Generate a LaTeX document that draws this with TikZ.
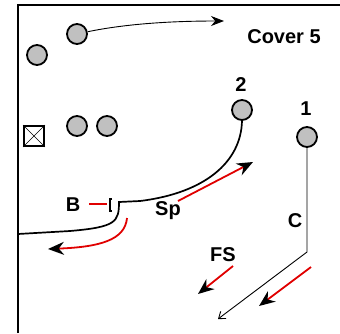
\documentclass[tikz,border=0pt]{standalone}
\usepackage{fontspec}
\setmainfont{Liberation Sans}
\usetikzlibrary{arrows.meta}
\definecolor{read}{HTML}{E00000}
\definecolor{chip}{HTML}{C0C0C0}

\begin{document}
\begin{tikzpicture}[x=1pt,y=-1pt,
  player/.style={circle,draw,line width=1.8pt,fill=chip,minimum size=20pt,inner sep=0pt},
  lbl/.style={font=\fontsize{20}{20}\selectfont\bfseries},
  route/.style={line width=1.7pt},
  drop/.style={line width=1.8pt,read,-{Stealth[black,length=16pt,width=13pt]}},
  motion/.style={line width=0.9pt}]
  \useasboundingbox (0,0) rectangle (340,333);
  % sideline and end of the field
  \draw[line width=2.8pt] (18,333) -- (18,5) -- (340,5);
  % offense
  \node[player] (wrin) at (77,34) {};
  \node[player] (wrout) at (37,55) {};
  \node[player] (rbone) at (77,126) {};
  \node[player] (rbtwo) at (107,126) {};
  \node[player] (two) at (242,110) {};
  \node[player] (one) at (307,137) {};
  \node[draw,line width=1.8pt,minimum size=20pt,inner sep=0pt] (ball) at (34,136) {};
  \draw[line width=0.4pt] (ball.north west) -- (ball.south east) (ball.north east) -- (ball.south west);
  % labels
  \node[lbl] (cover) at (284,37) {Cover 5};
  \node[lbl] (lbtwo) at (241,85) {2};
  \node[lbl] (lbone) at (306,109) {1};
  \node[lbl] (lbB) at (73,205) {B};
  \node[lbl] (lbSp) at (168,211) {Sp};
  \node[lbl] (lbC) at (295,221) {C};
  \node[lbl] (lbFS) at (223,255) {FS};
  % motion across the formation
  \coordinate (motend) at (224,21);
  \draw[motion,-{Stealth[length=13pt,width=10pt]}] (wrin.12) .. controls (125,24) and (170,21) .. (motend);
  % route of 2 into the flat
  \coordinate (hook) at (119,202);
  \coordinate (sideline) at (18,234);
  \draw[route] (two.south) .. controls (241,162) and (205,193) .. (140,201) -- (hook)
    .. controls (119,222) and (116,227) .. (70,231) -- (sideline);
  % route of 1 up the sideline
  \coordinate (cturn) at (307,252);
  \coordinate (cdeep) at (218,319);
  \draw[motion,-{Straight Barb[length=6pt,width=9pt]}] (one.south) -- (cturn) -- (cdeep);
  % block by B
  \coordinate (bks) at (89,204);
  \coordinate (bke) at (107,204);
  \draw[read,line width=1.6pt] (bks) -- (bke);
  \draw[line width=1.4pt] (112,199) -- (110,199) -- (110,211) -- (112,211);
  % defenders' reads
  \coordinate (bstart) at (127,218);
  \coordinate (bend) at (48,249);
  \draw[drop] (bstart) .. controls (125,240) and (100,247) .. (bend);
  \coordinate (spstart) at (178,201);
  \coordinate (spend) at (253,162);
  \draw[drop] (spstart) -- (spend);
  \coordinate (fsstart) at (233,266);
  \coordinate (fsend) at (198,294);
  \draw[drop] (fsstart) -- (fsend);
  \coordinate (cstart) at (311,267);
  \coordinate (cend) at (259,306);
  \draw[drop] (cstart) -- (cend);
\end{tikzpicture}
\end{document}
